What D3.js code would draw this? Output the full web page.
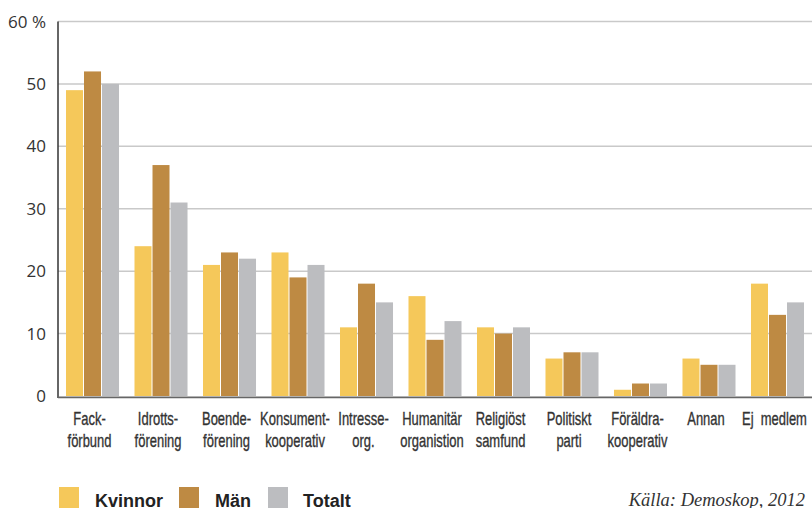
<!DOCTYPE html>
<html><head><meta charset="utf-8">
<script src="https://cdn.jsdelivr.net/npm/d3@7"></script>
<style>body{margin:0;background:#fff}svg{display:block}</style>
</head><body>
<svg id="c" width="812" height="508"></svg>
<script>
const categories = [["Fack-","förbund"],["Idrotts-","förening"],["Boende-","förening"],["Konsument-","kooperativ"],["Intresse-","org."],["Humanitär","organistion"],["Religiöst","samfund"],["Politiskt","parti"],["Föräldra-","kooperativ"],["Annan"],["Ej  medlem"]];
const kvinnor = [49,24,21,23,11,16,11,6,1,6,18];
const man = [52,37,23,19,18,9,10,7,2,5,13];
const totalt = [50,31,22,21,15,12,11,7,2,5,15];
const seriesNames = ["Kvinnor","Män","Totalt"];
const colors = ["#F5C85A","#BE8A43","#BCBDC0"];
const yTicks = [0,10,20,30,40,50,60];
const source = "Källa: Demoskop, 2012";

const svg = d3.select("#c");
const series = [kvinnor, man, totalt];
const x0 = d3.scaleBand().domain(d3.range(categories.length)).range([66, 804]).paddingInner(0.226).paddingOuter(0);
const x1 = d3.scaleBand().domain(d3.range(3)).range([0, x0.bandwidth()]).paddingInner(0.0556);
const y = d3.scaleLinear().domain([0,60]).range([396, 21.5]);

// gridlines
svg.append("g").selectAll("line").data(yTicks.filter(d=>d>0)).join("line")
  .attr("x1",58).attr("x2",812).attr("y1",d=>y(d)).attr("y2",d=>y(d))
  .attr("stroke","#c9c9c9").attr("stroke-width",1.5);

// y tick labels
svg.append("g").selectAll("text").data(yTicks).join("text")
  .attr("x",46).attr("y",d=>y(d)).attr("dy","0.36em").attr("text-anchor","end")
  .attr("font-family","'Open Sans', sans-serif").attr("font-size",17).attr("fill","#333")
  .text(d=> d===60 ? "60 %" : d);

// bars
const g = svg.append("g");
categories.forEach((c,i)=>{
  series.forEach((s,j)=>{
    g.append("rect").attr("x", x0(i)+x1(j)).attr("width", x1.bandwidth())
      .attr("y", y(s[i])).attr("height", y(0)-y(s[i])).attr("fill", colors[j]);
  });
});

// axes
svg.append("line").attr("x1",58).attr("x2",58).attr("y1",21.5).attr("y2",398).attr("stroke","#333").attr("stroke-width",1.5);
svg.append("line").attr("x1",58).attr("x2",812).attr("y1",397.3).attr("y2",397.3).attr("stroke","#666").attr("stroke-width",1.8);

// category labels (condensed via horizontal scale)
const lab = svg.append("g").attr("font-family","'Liberation Sans', Arial, sans-serif")
  .attr("font-size",18).attr("fill","#333").attr("stroke","#333").attr("stroke-width",0.35)
  .attr("text-anchor","middle");
categories.forEach((c,i)=>{
  const cx = x0(i) + x0.bandwidth()/2 - 3;
  c.forEach((line,k)=>{
    lab.append("text").attr("transform",`translate(${cx},${425+k*21.5}) scale(0.72,1)`)
      .attr("xml:space","preserve").text(line);
  });
});

// legend
const legX = [59,179,268];
const legTX = [95,215,303];
const leg = svg.append("g");
seriesNames.forEach((n,j)=>{
  leg.append("rect").attr("x",legX[j]).attr("y",487).attr("width",20).attr("height",22).attr("fill",colors[j]);
  leg.append("text").attr("x",legTX[j]).attr("y",506.5).attr("font-family","'Liberation Sans', Arial, sans-serif")
    .attr("font-weight","bold").attr("font-size",18).attr("fill","#222").text(n);
});

svg.append("text").attr("x",805).attr("y",506).attr("text-anchor","end")
  .attr("font-family","'Liberation Serif', serif").attr("font-style","italic").attr("font-size",18.5)
  .attr("fill","#333").text(source);
</script>
</body></html>
